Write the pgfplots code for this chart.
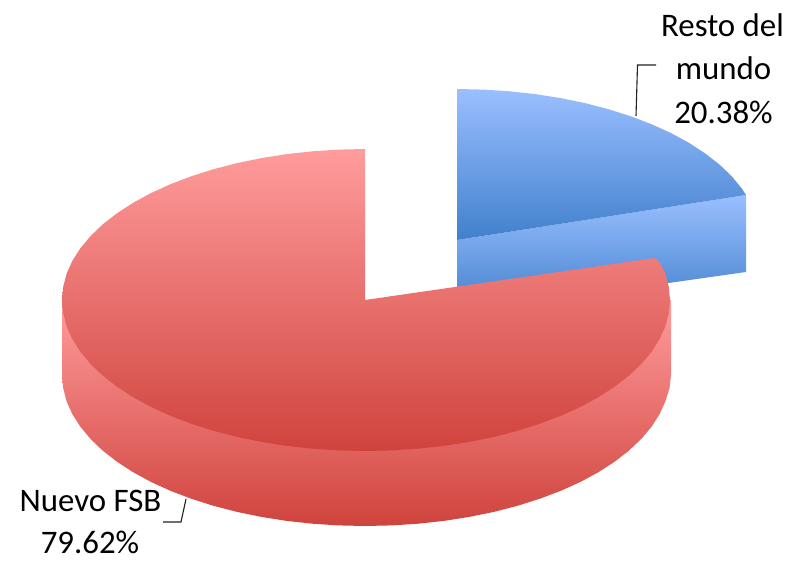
\documentclass[border=0pt]{standalone}
\usepackage{pgfplots}
\pgfplotsset{compat=1.18}
\usepackage{fontspec}
\setmainfont{Carlito}
\definecolor{redlight}{HTML}{FF9C9C}
\definecolor{reddark}{HTML}{D0433D}
\definecolor{bluelight}{HTML}{9ABFFF}
\definecolor{bluedark}{HTML}{4180CC}
\definecolor{leader}{HTML}{202020}
\newcommand{\lab}{\fontsize{33}{39}\selectfont}
\begin{document}
\begin{tikzpicture}
\begin{axis}[
  scale only axis, width=798bp, height=561bp,
  xmin=0, xmax=798, ymin=0, ymax=561, y dir=reverse,
  hide axis, clip=false, no markers,
]
\path (axis cs:0,0) (axis cs:798,561);
% Resto del mundo: side wall
\addplot[draw=none, shade, top color=bluelight, bottom color=bluedark]
  coordinates {(457,240) (746,195) (746,272) (457,313)} --cycle;
% Resto del mundo: top face
\addplot[draw=none, shade, top color=bluelight, bottom color=bluedark]
  coordinates {(457,240) (457,89) (483.4,89.6) (509.6,91.3) (535.4,94.1) (560.6,98.1) (585,103.1)
    (608.5,109.2) (630.8,116.3) (651.8,124.3) (671.3,133.2) (689.1,142.9) (705.2,153.4)
    (719.4,164.5) (731.6,176.1) (741.7,188.4) (746,195)} --cycle;
% Nuevo FSB: side wall
\addplot[draw=none, shade, top color=redlight, bottom color=reddark]
  coordinates {(62,300) (62,375) (63.2,388.2) (66.6,401.3) (72.3,414.1) (80.3,426.6) (90.4,438.8)
    (102.6,450.5) (116.8,461.6) (132.9,472.1) (150.7,481.8) (170.2,490.7) (191.2,498.7)
    (213.5,505.8) (237,511.9) (261.4,516.9) (286.6,520.9) (312.4,523.7) (338.6,525.4) (365,526)
    (391.6,525.4) (418,523.7) (443.9,520.9) (469.3,516.9) (493.9,511.9) (517.5,505.8) (539.9,498.7)
    (561.1,490.7) (580.7,481.8) (598.6,472.1) (614.8,461.6) (629.1,450.5) (641.4,438.8)
    (651.7,426.6) (659.6,414.1) (665.4,401.3) (669.5,388.2) (671,375) (671,300)} --cycle;
% Nuevo FSB: top face
\addplot[draw=none, shade, top color=redlight, bottom color=reddark]
  coordinates {(365,300) (365,149) (338.6,149.6) (312.4,151.3) (286.6,154.1) (261.4,158.1) (237,163.1)
    (213.5,169.2) (191.2,176.3) (170.2,184.3) (150.7,193.2) (132.9,202.9) (116.8,213.4)
    (102.6,224.5) (90.4,236.2) (80.3,248.4) (72.3,260.9) (66.6,273.7) (63.2,286.8) (62,300)
    (63.2,313.2) (66.6,326.3) (72.3,339.1) (80.3,351.6) (90.4,363.8) (102.6,375.5) (116.8,386.6)
    (132.9,397.1) (150.7,406.8) (170.2,415.7) (191.2,423.7) (213.5,430.8) (237,436.9)
    (261.4,441.9) (286.6,445.9) (312.4,448.7) (338.6,450.4) (365,451)
    (391.6,450.4) (418,448.7) (443.9,445.9) (469.3,441.9) (493.9,436.9) (517.5,430.8) (539.9,423.7)
    (561.1,415.7) (580.7,406.8) (598.6,397.1) (614.8,386.6) (629.1,375.5) (641.4,363.8) (651.7,351.6)
    (659.6,339.1) (665.4,326.3) (668.8,313.2) (670,300) (668.8,286.8) (665.4,273.8) (660,263) (655,258)} --cycle;
% Leader lines
\addplot[leader, line width=1.1bp] coordinates {(636,116) (637.5,65) (656,65)};
\addplot[leader, line width=1.1bp] coordinates {(186,499) (181,522) (163,522)};
% Labels
\node[anchor=base, inner sep=0pt] at (axis cs:722.5,37) {\lab Resto del};
\node[anchor=base, inner sep=0pt] at (axis cs:723.5,80) {\lab mundo};
\node[anchor=base, inner sep=0pt] at (axis cs:723.5,123) {\lab 20.38\%};
\node[anchor=base, inner sep=0pt] at (axis cs:90.5,511) {\lab Nuevo FSB};
\node[anchor=base, inner sep=0pt] at (axis cs:90,553) {\lab 79.62\%};
\end{axis}
\end{tikzpicture}
\end{document}
